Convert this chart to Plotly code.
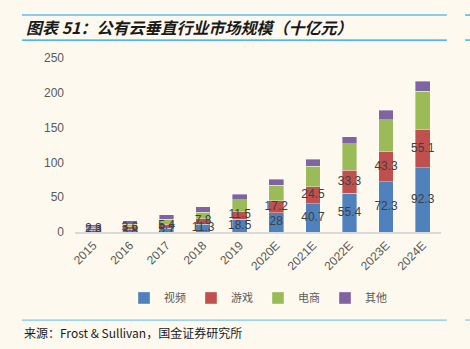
import plotly.graph_objects as go

years = ["2015", "2016", "2017", "2018", "2019", "2020E", "2021E", "2022E", "2023E", "2024E"]
video = [2.8, 3.8, 5.7, 11.3, 18.5, 28, 40.7, 55.4, 72.3, 92.3]
game = [2.3, 3.6, 5.4, 7.8, 11.5, 17.2, 24.5, 33.3, 43.3, 55.1]
ecommerce = [2.5, 4.0, 7.0, 9.0, 16.0, 22.0, 29.6, 38.0, 46.0, 55.0]
other = [2.5, 5.0, 7.0, 8.0, 8.0, 8.6, 9.6, 10.5, 13.0, 14.0]

names = ["视频", "游戏", "电商", "其他"]
colors = ["#4F81BD", "#C0504D", "#9BBB59", "#8064A2"]
series = [video, game, ecommerce, other]

bg = "#FDF9EF"
fig = go.Figure()
for name, vals, col in zip(names, series, colors):
    fig.add_trace(go.Bar(
        x=years, y=vals, name=name,
        marker=dict(color=col, line=dict(color="rgba(255,255,255,0.6)", width=0.6)),
        hoverinfo="skip",
    ))

# value labels centred in the video and game segments (overlapping on small bars, as in the source)
video_mid = [v / 2 for v in video]
game_mid = [v + g / 2 for v, g in zip(video, game)]
for mids, vals in ((video_mid, video), (game_mid, game)):
    fig.add_trace(go.Scatter(
        x=years, y=mids, mode="text", text=[str(v) for v in vals],
        textposition="middle center", showlegend=False, hoverinfo="skip",
        textfont=dict(family="Liberation Sans, Arial", size=12, color="#404040"),
    ))

fig.update_layout(
    barmode="stack",
    bargap=0.6,
    width=470, height=349,
    margin=dict(l=75, r=29, t=58, b=117),
    paper_bgcolor=bg, plot_bgcolor=bg,
    showlegend=True,
    legend=dict(orientation="h", x=0.5, xanchor="center", y=-0.379, yanchor="middle",
                font=dict(family="Noto Sans CJK SC", size=11, color="#595959"),
                itemwidth=30, entrywidth=22, traceorder="normal", bgcolor="rgba(0,0,0,0)"),
    xaxis=dict(type="category", tickangle=-45, showgrid=False, showline=True,
               linecolor="#D9D9D9", linewidth=1.5, ticks="",
               tickfont=dict(family="Liberation Sans, Arial", size=12, color="#595959")),
    yaxis=dict(range=[0, 250], dtick=50, showgrid=False, zeroline=False, showline=False,
               ticks="", ticklabelstandoff=10,
               tickfont=dict(family="Liberation Sans, Arial", size=12, color="#595959")),
)

x_left = -0.145
x_right = 1.016
for yy, colr in ((1.247, "#1BA1E2"), (1.103, "#1BA1E2"), (-0.506, "#7CC8EC")):
    fig.add_shape(type="line", xref="paper", yref="paper", x0=x_left, x1=x_right, y0=yy, y1=yy,
                  line=dict(color=colr, width=1.2))
# fragments of the neighbouring column's rules at the right edge
for yy, colr in ((1.247, "#1BA1E2"), (1.103, "#1BA1E2"), (-0.506, "#7CC8EC")):
    fig.add_shape(type="line", xref="paper", yref="paper", x0=1.066, x1=1.09, y0=yy, y1=yy,
                  line=dict(color=colr, width=1.2))
fig.add_annotation(xref="paper", yref="paper", x=x_left + 0.005, y=1.178, xanchor="left", yanchor="middle",
                   text="<b><i>图表 51：公有云垂直行业市场规模（十亿元）</i></b>", showarrow=False,
                   font=dict(family="Noto Sans CJK SC", size=16, color="#1a1a1a"))
fig.add_annotation(xref="paper", yref="paper", x=x_left, y=-0.58, xanchor="left", yanchor="middle",
                   text="来源：Frost & Sullivan，国金证券研究所", showarrow=False,
                   font=dict(family="Noto Sans CJK SC", size=12, color="#1a1a1a"))

fig.write_html("out.html")
